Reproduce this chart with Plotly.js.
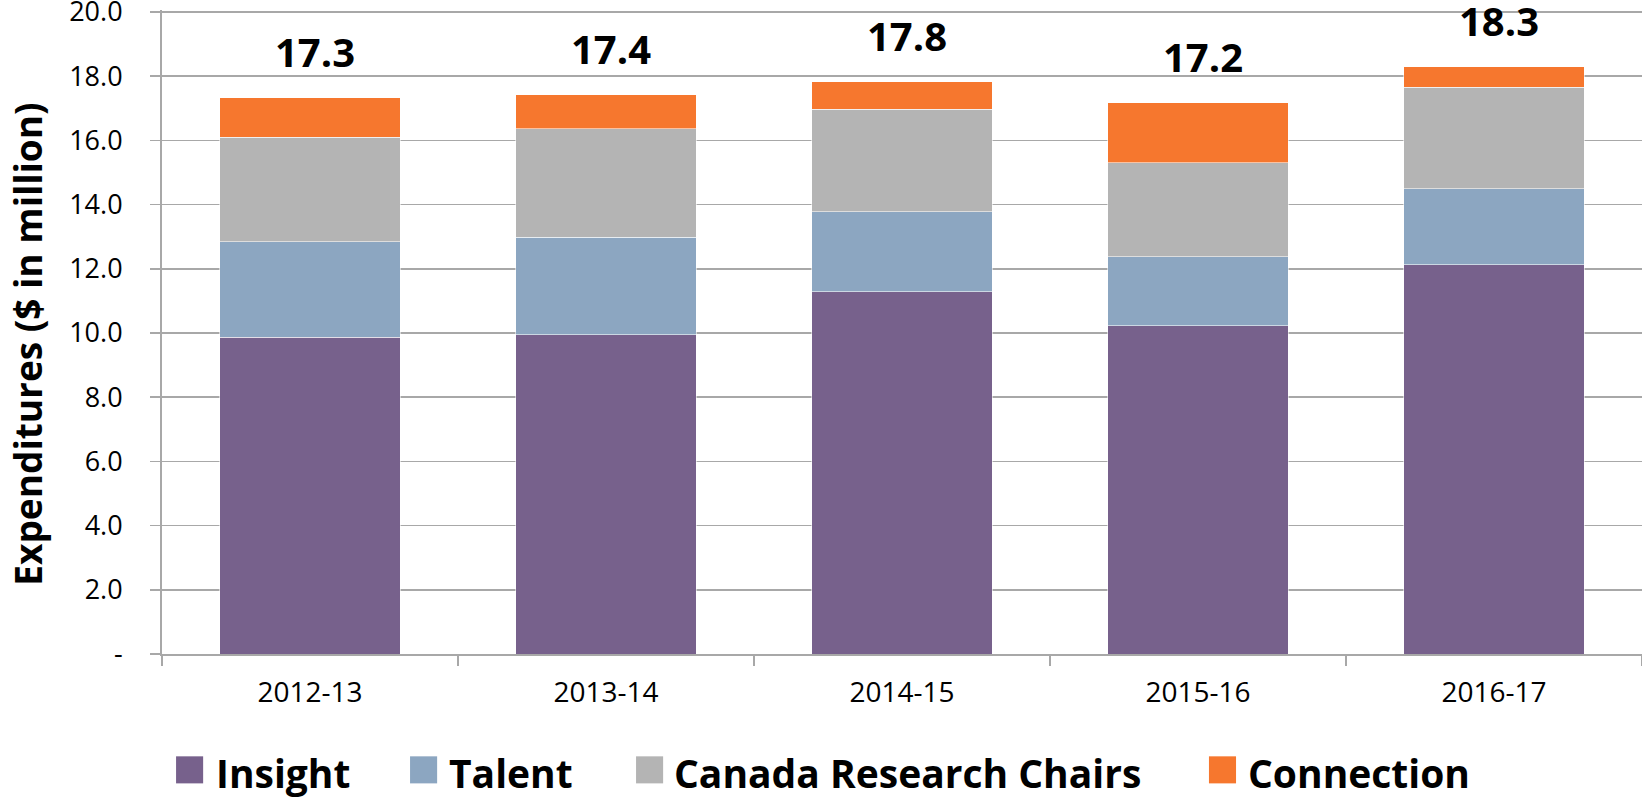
<!DOCTYPE html>
<html>
<head>
<meta charset="utf-8">
<script src="https://cdn.plot.ly/plotly-3.0.1.min.js"></script>
<style>
  html, body { margin: 0; padding: 0; background: #ffffff; }
  #chart { width: 1642px; height: 798px; }
</style>
</head>
<body>
<div id="chart"></div>
<script>
// ---- data ----
const categories = ["2012-13", "2013-14", "2014-15", "2015-16", "2016-17"];
const seriesNames = ["Insight", "Talent", "Canada Research Chairs", "Connection"];
const insight = [9.87, 9.95, 11.28, 10.22, 12.12];
const talent = [2.97, 3.03, 2.50, 2.16, 2.37];
const researchChairs = [3.26, 3.38, 3.19, 2.92, 3.17];
const connection = [1.23, 1.06, 0.86, 1.87, 0.63];
const yTickValues = [0, 2, 4, 6, 8, 10, 12, 14, 16, 18, 20];
const yTickLabels = ["-", "2.0", "4.0", "6.0", "8.0", "10.0", "12.0", "14.0", "16.0", "18.0", "20.0"];
const yAxisTitle = "Expenditures ($ in million)";

// ---- styles ----
const colors = ["#77618c", "#8ca6c1", "#b4b4b4", "#f6772e"];
const FONT = "Open Sans, Liberation Sans, sans-serif";
const GRID = "#a8a8a8";

const seriesValues = [insight, talent, researchChairs, connection];
const totals = categories.map((c, i) => seriesValues.reduce((s, arr) => s + arr[i], 0));

const traces = seriesValues.map((vals, k) => ({
  type: "bar",
  name: seriesNames[k],
  x: categories,
  y: vals,
  marker: { color: colors[k], line: { color: "rgba(255,255,255,0.55)", width: 1 } },
  showlegend: false,
  hoverinfo: "x+y+name"
}));

// total labels above the stacks
const annotations = categories.map((c, i) => ({
  x: c, y: totals[i], xref: "x", yref: "y",
  text: totals[i].toFixed(1),
  showarrow: false, yanchor: "middle", xanchor: "center", yshift: 46, xshift: 5,
  font: { family: FONT, size: 40, color: "#000000", weight: 700 }
}));

// y-axis title (rotated)
annotations.push({
  x: -0.0905, y: 0.4804, xref: "paper", yref: "paper",
  text: yAxisTitle, textangle: -90, showarrow: false,
  xanchor: "center", yanchor: "middle",
  font: { family: FONT, size: 37, color: "#000000", weight: 700 }
});

// custom legend (large square swatches like the original)
const legendSquareX = [0.0095, 0.1676, 0.3203, 0.7074];
const legendTextX = [0.0352, 0.1926, 0.3446, 0.7325];
const shapes = [];
seriesNames.forEach((n, k) => {
  shapes.push({
    type: "rect", xref: "paper", yref: "paper",
    x0: legendSquareX[k], x1: legendSquareX[k] + 0.0183,
    y0: -0.2009, y1: -0.1589,
    fillcolor: colors[k], line: { width: 0 }
  });
  annotations.push({
    x: legendTextX[k], y: -0.1838, xref: "paper", yref: "paper",
    text: n, showarrow: false, xanchor: "left", yanchor: "middle",
    font: { family: FONT, size: 39, color: "#000000", weight: 700 }
  });
});

const layout = {
  width: 1642, height: 798,
  margin: { l: 162, r: 0, t: 10, b: 144, pad: 0 },
  paper_bgcolor: "#ffffff", plot_bgcolor: "#ffffff",
  barmode: "stack",
  bargap: 0.39,
  showlegend: false,
  font: { family: FONT, color: "#000000" },
  xaxis: {
    type: "category",
    showgrid: false,
    showline: true, linecolor: GRID, linewidth: 2,
    ticks: "outside", tickson: "boundaries", ticklen: 10, tickcolor: GRID, tickwidth: 1.5,
    tickfont: { family: FONT, size: 28, color: "#000000" },
    ticklabelstandoff: 12,
    fixedrange: true
  },
  yaxis: {
    range: [0, 20.06],
    tickvals: yTickValues, ticktext: yTickLabels,
    showgrid: true, gridcolor: GRID, gridwidth: 1.5,
    zeroline: false,
    showline: true, linecolor: GRID, linewidth: 2,
    ticks: "outside", ticklen: 10, tickcolor: GRID, tickwidth: 1.5,
    tickfont: { family: FONT, size: 27, color: "#000000" },
    ticklabelstandoff: 22,
    ticklabeloverflow: "allow",
    fixedrange: true
  },
  annotations: annotations,
  shapes: shapes
};

Plotly.newPlot("chart", traces, layout, { displayModeBar: false, staticPlot: true });
</script>
</body>
</html>
